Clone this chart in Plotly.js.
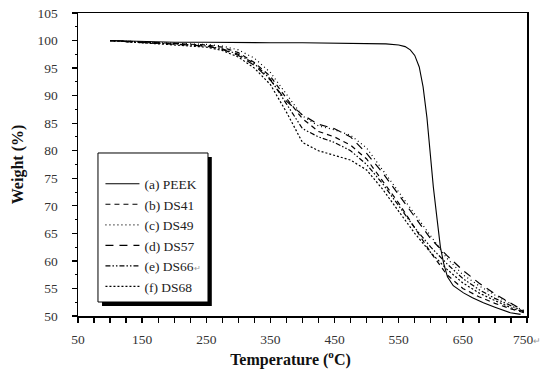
<!DOCTYPE html>
<html>
<head>
<meta charset="utf-8">
<script src="https://cdn.plot.ly/plotly-3.0.1.min.js"></script>
<style>html,body{margin:0;padding:0;background:#fff;}#chart{width:550px;height:377px;}</style>
</head>
<body>
<div id="chart"></div>
<script>
// Temperature (°C) sample points
var peekT = [100, 150, 200, 250, 300, 350, 400, 450, 500, 530, 550, 560, 568, 575, 582, 588, 594, 599, 604, 610, 615, 620, 626, 635, 651, 665, 682, 700, 724, 740];
var peekW = [100, 99.8, 99.7, 99.7, 99.6, 99.6, 99.6, 99.5, 99.5, 99.4, 99.2, 98.9, 98.3, 97.3, 95.2, 91.6, 86.0, 79.6, 73.4, 67.4, 62.5, 59.6, 57.1, 55.5, 54.2, 53.3, 52.4, 51.6, 50.6, 50.3];

var dsT = [100, 150, 200, 250, 275, 300, 325, 350, 375, 400, 425, 450, 475, 500, 525, 550, 575, 600, 625, 650, 675, 700, 725, 745];
var ds41 = [100, 99.7, 99.5, 99.2, 98.8, 97.8, 96.0, 93.5, 89.5, 85.8, 83.5, 82.5, 81.0, 78.5, 74.5, 70.5, 66.0, 61.5, 57.5, 55.0, 53.5, 52.3, 51.3, 50.6];
var ds49 = [100, 99.7, 99.5, 99.3, 99.0, 98.3, 96.8, 94.2, 90.3, 86.3, 84.5, 83.8, 82.8, 80.5, 76.5, 72.5, 68.5, 64.5, 60.5, 57.5, 55.5, 53.8, 52.2, 50.9];
var ds57 = [100, 99.7, 99.4, 99.0, 98.4, 97.3, 95.5, 92.8, 89.0, 86.5, 84.8, 84.0, 82.5, 79.5, 76.0, 72.0, 68.0, 64.0, 61.0, 58.3, 56.0, 54.0, 52.3, 51.0];
var ds66 = [100, 99.6, 99.4, 99.0, 98.5, 97.5, 95.8, 93.0, 88.5, 84.0, 82.5, 81.5, 80.0, 77.5, 74.0, 70.0, 66.0, 62.5, 59.5, 56.8, 54.8, 53.2, 51.8, 50.8];
var ds68 = [100, 99.6, 99.3, 98.8, 98.2, 97.0, 95.0, 92.0, 87.0, 81.5, 80.0, 79.2, 78.3, 76.5, 73.0, 69.0, 65.0, 61.5, 58.5, 56.0, 54.2, 52.8, 51.5, 50.7];

var names = ["(a) PEEK", "(b) DS41", "(c) DS49", "(d) DS57", "(e) DS66<span style='font-size:8px;color:#999'>↵</span>", "(f) DS68"];
var xTickVals = [50, 150, 250, 350, 450, 550, 650, 750];
var xTickText = ["50", "150", "250", "350", "450", "550", "650", "750<span style='font-size:9px;color:#999'>↵</span>"];

function tr(x, y, name, dash, w) {
  return {x: x, y: y, name: name, type: 'scatter', mode: 'lines',
          line: {color: '#000', width: w, dash: dash}};
}
var data = [
  tr(peekT, peekW, names[0], 'solid', 1.1),
  tr(dsT, ds41, names[1], '5px,4px', 1.2),
  tr(dsT, ds49, names[2], '1px,3px', 1.2),
  tr(dsT, ds57, names[3], '8px,6px', 1.2),
  tr(dsT, ds66, names[4], '5px,2px,1.5px,2px,1.5px,2px', 1.2),
  tr(dsT, ds68, names[5], '2px,2px', 1.2)
];

var SERIF = "'Liberation Serif', 'Times New Roman', serif";
var fnt = {family: SERIF, size: 13.5, color: '#333'};
var layout = {
  width: 550, height: 377,
  margin: {l: 78, r: 23, t: 13, b: 61},
  paper_bgcolor: '#fff', plot_bgcolor: '#fff',
  font: fnt,
  showlegend: true,
  legend: {x: 0.05, y: 0.487, xanchor: 'left', yanchor: 'top', bgcolor: 'rgba(0,0,0,0)', borderwidth: 0,
           font: {family: SERIF, size: 13.5, color: '#222'}, itemwidth: 34, tracegroupgap: 0},
  xaxis: {
    range: [50, 750], tickvals: xTickVals, ticktext: xTickText,
    ticks: 'outside', ticklen: 5, tickwidth: 1.3, tickcolor: '#000', ticklabelstandoff: 5,
    minor: {dtick: 25, tick0: 50, ticks: 'outside', ticklen: 5, tickwidth: 1.3, tickcolor: '#000', showgrid: false},
    showline: true, linecolor: '#000', linewidth: 1.5, mirror: true,
    showgrid: false, zeroline: false,
    tickfont: fnt,
    title: {text: '<b>Temperature (<sup>o</sup>C)</b>&nbsp;&nbsp;&nbsp;&nbsp;&nbsp;&nbsp;', font: {family: SERIF, size: 16, color: '#111'}, standoff: 8}
  },
  yaxis: {
    range: [50, 105], dtick: 5, tick0: 50,
    ticks: 'outside', ticklen: 5, tickwidth: 1.3, tickcolor: '#000', ticklabelstandoff: 11,
    minor: {dtick: 2.5, ticks: 'outside', ticklen: 2, tickwidth: 1, tickcolor: '#000', showgrid: false},
    showline: true, linecolor: '#000', linewidth: 1.5, mirror: true,
    showgrid: false, zeroline: false,
    tickfont: fnt,
    title: {text: '<b>Weight (%)</b>', font: {family: SERIF, size: 16, color: '#111'}, standoff: 10}
  },
  shapes: [
    {type: 'rect', xref: 'paper', yref: 'paper', x0: 0.0535, x1: 0.298, y0: 0.033, y1: 0.525,
     fillcolor: '#000', line: {width: 0}, layer: 'above'},
    {type: 'rect', xref: 'paper', yref: 'paper', x0: 0.0445, x1: 0.2895, y0: 0.0462, y1: 0.538,
     fillcolor: '#fff', line: {color: '#000', width: 1}, layer: 'above'}
  ]
};
Plotly.newPlot('chart', data, layout, {displayModeBar: false, staticPlot: true});
</script>
</body>
</html>
